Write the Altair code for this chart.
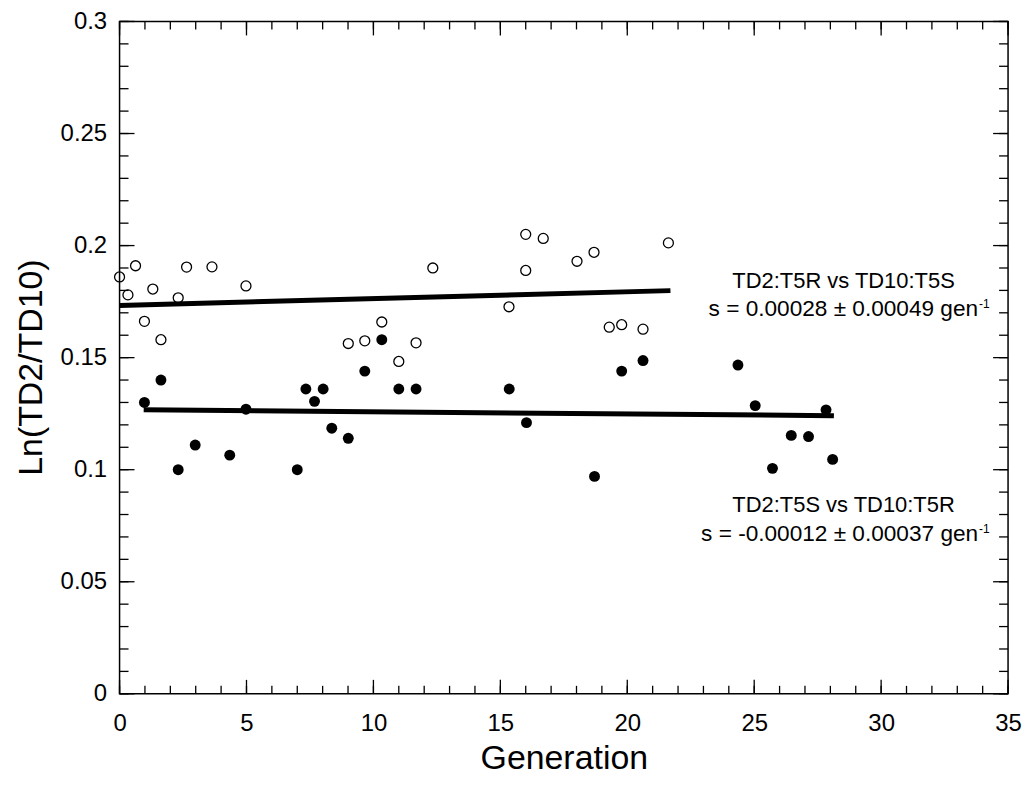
import altair as alt
import pandas as pd

# ---- data ----
# open circles: TD2:T5R vs TD10:T5S
gen_open = [0.0, 0.33, 0.63, 0.98, 1.31, 1.63, 2.31, 2.64, 3.64, 4.98, 9.01, 9.66, 10.33,
            11.0, 11.68, 12.34, 15.34, 16.0, 16.0, 16.69, 18.02, 18.69, 19.29, 19.78,
            20.62, 21.62]
ln_open = [0.186, 0.178, 0.191, 0.1662, 0.1806, 0.158, 0.1767, 0.1904, 0.1905, 0.182,
           0.1563, 0.1575, 0.1659, 0.1483, 0.1566, 0.190, 0.1727, 0.205, 0.1889, 0.2032,
           0.193, 0.197, 0.1636, 0.1647, 0.1627, 0.2012]
# filled circles: TD2:T5S vs TD10:T5R
gen_fill = [0.98, 1.63, 2.31, 2.98, 4.34, 4.98, 7.0, 7.34, 7.68, 8.02, 8.36, 9.01, 9.66,
            10.33, 11.0, 11.68, 15.35, 16.03, 18.71, 19.78, 20.62, 24.36, 25.04, 25.72,
            26.46, 27.14, 27.83, 28.09]
ln_fill = [0.130, 0.140, 0.100, 0.111, 0.1065, 0.127, 0.100, 0.136, 0.1305, 0.136, 0.1185,
           0.114, 0.144, 0.158, 0.136, 0.136, 0.136, 0.121, 0.097, 0.144, 0.1487, 0.1467,
           0.1286, 0.1006, 0.1153, 0.1148, 0.1267, 0.1046]
# regression lines
fit_open_x = [0.0, 21.7]
fit_open_y = [0.1733, 0.1799]
fit_fill_x = [0.95, 28.14]
fit_fill_y = [0.1267, 0.1241]

x_major = [0, 5, 10, 15, 20, 25, 30, 35]
x_minor = list(range(0, 36))
y_major = [0, 0.05, 0.1, 0.15, 0.2, 0.25, 0.3]
y_minor = [round(i * 0.01, 2) for i in range(31)]

ann_title = ["TD2:T5R vs TD10:T5S", "TD2:T5S vs TD10:T5R"]
ann_title_x = [28.52, 28.52]
ann_title_y = [0.1844, 0.0842]
ann_s = ["s = 0.00028 \u00b1 0.00049 gen", "s = -0.00012 \u00b1 0.00037 gen"]
ann_s_x = [33.82, 33.82]
ann_s_y = [0.1716, 0.0713]
ann_sup = ["-1", "-1"]

# ---- chart ----
W, H = 892, 675
FONT = "Liberation Sans"
xs = alt.Scale(domain=[0, 35], nice=False, zero=False)
ys = alt.Scale(domain=[0, 0.3], nice=False, zero=False)

x_axis = alt.Axis(values=x_major, ticks=False, tickSize=0, domain=False, grid=False,
                  format="d", labelFlush=False, labelFont=FONT, labelFontSize=24,
                  labelColor="black", labelPadding=18, title="Generation", titleFont=FONT,
                  titleFontSize=34, titleFontWeight="normal", titleColor="black",
                  titlePadding=6)
y_axis = alt.Axis(values=y_major, ticks=False, tickSize=0, domain=False, grid=False,
                  format="~g", labelFlush=False, labelFont=FONT, labelFontSize=24,
                  labelColor="black", labelPadding=13, title="Ln(TD2/TD10)", titleFont=FONT,
                  titleFontSize=34, titleFontWeight="normal", titleColor="black",
                  titlePadding=12, titleY=347)


def X(field):
    return alt.X(field, type="quantitative", scale=xs, axis=x_axis)


def Y(field):
    return alt.Y(field, type="quantitative", scale=ys, axis=y_axis)


df_open = pd.DataFrame({"g": gen_open, "v": ln_open})
df_fill = pd.DataFrame({"g": gen_fill, "v": ln_fill})

open_pts = alt.Chart(df_open).mark_point(shape="circle", filled=False, size=100,
                                         color="black", strokeWidth=1.3, opacity=1).encode(
    x=X("g"), y=Y("v"))
fill_pts = alt.Chart(df_fill).mark_point(shape="circle", filled=True, size=120,
                                         color="black", opacity=1).encode(
    x=X("g"), y=Y("v"))


def fit_line(xv, yv):
    d = pd.DataFrame({"g": xv, "v": yv})
    return alt.Chart(d).mark_line(color="black", strokeWidth=5).encode(x=X("g"), y=Y("v"))


def x_ticks(vals, length, top):
    d = pd.DataFrame({"t": vals})
    y0 = 0 if top else H
    y1 = length if top else H - length
    return alt.Chart(d).mark_rule(color="black", strokeWidth=1.3).encode(
        x=X("t"), y=alt.value(y0), y2=alt.value(y1))


def y_ticks(vals, length, right):
    d = pd.DataFrame({"t": vals})
    x0 = W if right else 0
    x1 = W - length if right else length
    return alt.Chart(d).mark_rule(color="black", strokeWidth=1.3).encode(
        y=Y("t"), x=alt.value(x0), x2=alt.value(x1))


ticks = [
    x_ticks(x_minor, 8, False), x_ticks(x_major, 14, False),
    x_ticks(x_minor, 8, True), x_ticks(x_major, 14, True),
    y_ticks(y_minor, 9, False), y_ticks(y_major, 15, False),
    y_ticks(y_minor, 9, True), y_ticks(y_major, 15, True),
]

df_title = pd.DataFrame({"x": ann_title_x, "y": ann_title_y, "t": ann_title})
df_s = pd.DataFrame({"x": ann_s_x, "y": ann_s_y, "t": ann_s, "sup": ann_sup})

titles = alt.Chart(df_title).mark_text(font=FONT, fontSize=22, color="black",
                                       align="center", baseline="middle").encode(
    x=X("x"), y=Y("y"), text="t:N")
s_text = alt.Chart(df_s).mark_text(font=FONT, fontSize=22.7, color="black",
                                   align="right", baseline="middle").encode(
    x=X("x"), y=Y("y"), text="t:N")
sup_text = alt.Chart(df_s).mark_text(font=FONT, fontSize=12, color="black",
                                     align="left", baseline="middle", dx=1, dy=-5).encode(
    x=X("x"), y=Y("y"), text="sup:N")

chart = alt.layer(
    *ticks,
    fit_line(fit_open_x, fit_open_y),
    fit_line(fit_fill_x, fit_fill_y),
    open_pts, fill_pts, titles, s_text, sup_text,
).properties(
    width=W, height=H,
    autosize=alt.AutoSizeParams(type="none"),
    padding={"left": 112, "top": 12, "right": 14, "bottom": 81},
    background="white",
).configure_view(stroke="black", strokeWidth=1.5)

chart.save("out.html", embed_options={"renderer": "svg", "actions": False})
